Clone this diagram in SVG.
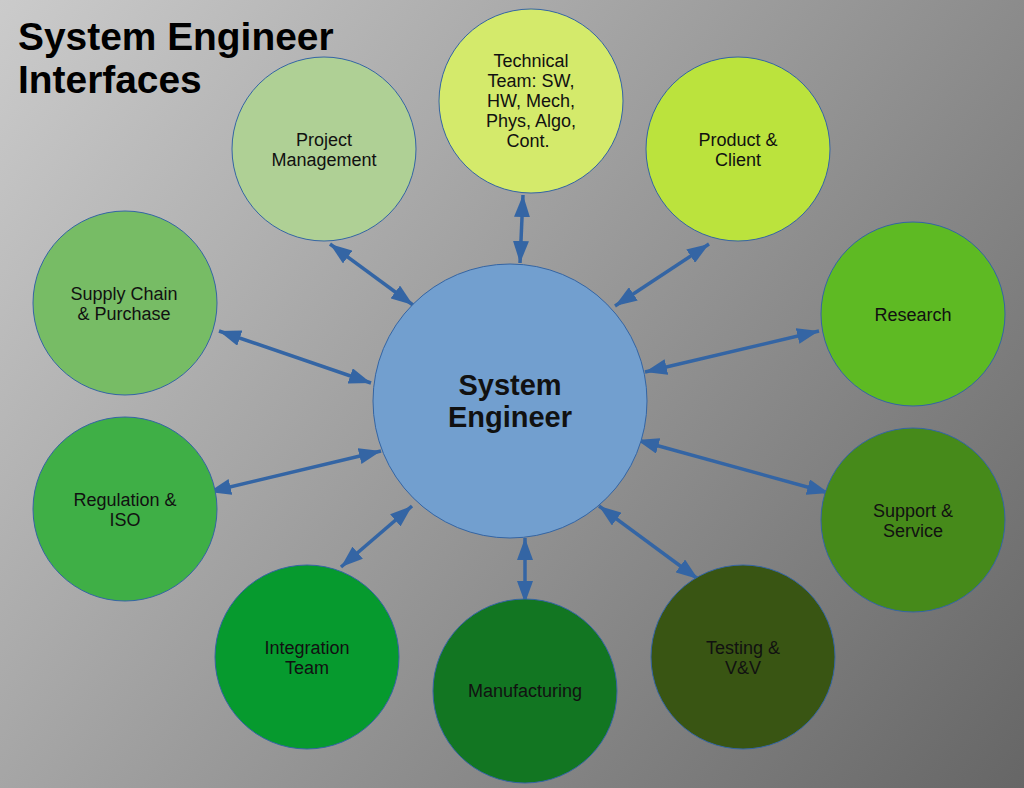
<svg xmlns="http://www.w3.org/2000/svg" width="1024" height="788" viewBox="0 0 1024 788">
<defs>
<linearGradient id="bg" gradientUnits="userSpaceOnUse" x1="0" y1="0" x2="1024" y2="788">
<stop offset="0" stop-color="#cbcbcb"/>
<stop offset="1" stop-color="#666666"/>
</linearGradient>
<marker id="ah" markerUnits="userSpaceOnUse" markerWidth="22" markerHeight="16" refX="22" refY="8" orient="auto-start-reverse" viewBox="0 0 22 16">
<path d="M0,0 L22,8 L0,16 z" fill="#3465a4"/>
</marker>
<style>
.node{stroke:#3465a4;stroke-width:1}
.lbl{font-family:"Liberation Sans",Arial,sans-serif;font-size:18px;fill:#111;text-anchor:middle}
.conn line{stroke:#3465a4;stroke-width:3.5;marker-start:url(#ah);marker-end:url(#ah)}
</style>
</defs>
<rect x="0" y="0" width="1024" height="788" fill="url(#bg)"/>
<text x="18" y="50" font-family="Liberation Sans,Arial,sans-serif" font-weight="bold" font-size="38.9" fill="#000">System Engineer</text>
<text x="18" y="93" font-family="Liberation Sans,Arial,sans-serif" font-weight="bold" font-size="38.9" fill="#000">Interfaces</text>

<g id="connectors" class="conn">
<line x1="330" y1="244" x2="413" y2="305"/>
<line x1="523" y1="195" x2="520" y2="263"/>
<line x1="709" y1="244" x2="615" y2="306"/>
<line x1="219" y1="331" x2="371" y2="383"/>
<line x1="819" y1="331" x2="645" y2="372"/>
<line x1="209" y1="492" x2="381" y2="451"/>
<line x1="637" y1="440" x2="829" y2="493"/>
<line x1="599" y1="506" x2="698" y2="579"/>
<line x1="525" y1="538" x2="525" y2="603"/>
<line x1="412" y1="506" x2="341" y2="567"/>
</g>

<g id="system-engineer">
<circle class="node" cx="510" cy="401" r="137" fill="#729fcf"/>
<text x="510" y="395" font-family="Liberation Sans,Arial,sans-serif" font-weight="bold" font-size="29" fill="#111" text-anchor="middle">System</text>
<text x="510" y="427" font-family="Liberation Sans,Arial,sans-serif" font-weight="bold" font-size="29" fill="#111" text-anchor="middle">Engineer</text>
</g>

<g id="technical-team">
<circle class="node" cx="531" cy="101" r="92" fill="#d4ea6b"/>
<text class="lbl" x="531" y="67">Technical</text>
<text class="lbl" x="531" y="87">Team: SW,</text>
<text class="lbl" x="531" y="107">HW, Mech,</text>
<text class="lbl" x="531" y="127">Phys, Algo,</text>
<text class="lbl" x="528" y="147">Cont.</text>
</g>

<g id="project-management">
<circle class="node" cx="324" cy="149" r="92" fill="#afd095"/>
<text class="lbl" x="324" y="146">Project</text>
<text class="lbl" x="324" y="166">Management</text>
</g>

<g id="product-client">
<circle class="node" cx="738" cy="149" r="92" fill="#bbe33d"/>
<text class="lbl" x="738" y="146">Product &amp;</text>
<text class="lbl" x="738" y="166">Client</text>
</g>

<g id="supply-chain">
<circle class="node" cx="125" cy="303" r="92" fill="#77bc65"/>
<text class="lbl" x="124" y="300">Supply Chain</text>
<text class="lbl" x="124" y="320">&amp; Purchase</text>
</g>

<g id="research">
<circle class="node" cx="913" cy="314" r="92" fill="#5eba23"/>
<text class="lbl" x="913" y="321">Research</text>
</g>

<g id="regulation-iso">
<circle class="node" cx="125" cy="509" r="92" fill="#3faf46"/>
<text class="lbl" x="125" y="506">Regulation &amp;</text>
<text class="lbl" x="125" y="526">ISO</text>
</g>

<g id="support-service">
<circle class="node" cx="913" cy="520" r="92" fill="#468a1a"/>
<text class="lbl" x="913" y="517">Support &amp;</text>
<text class="lbl" x="913" y="537">Service</text>
</g>

<g id="integration-team">
<circle class="node" cx="307" cy="657" r="92" fill="#069a2e"/>
<text class="lbl" x="307" y="654">Integration</text>
<text class="lbl" x="307" y="674">Team</text>
</g>

<g id="manufacturing">
<circle class="node" cx="525" cy="691" r="92" fill="#127622"/>
<text class="lbl" x="525" y="697">Manufacturing</text>
</g>

<g id="testing-vv">
<circle class="node" cx="743" cy="657" r="92" fill="#395513"/>
<text class="lbl" x="743" y="654">Testing &amp;</text>
<text class="lbl" x="743" y="674">V&amp;V</text>
</g>
</svg>
